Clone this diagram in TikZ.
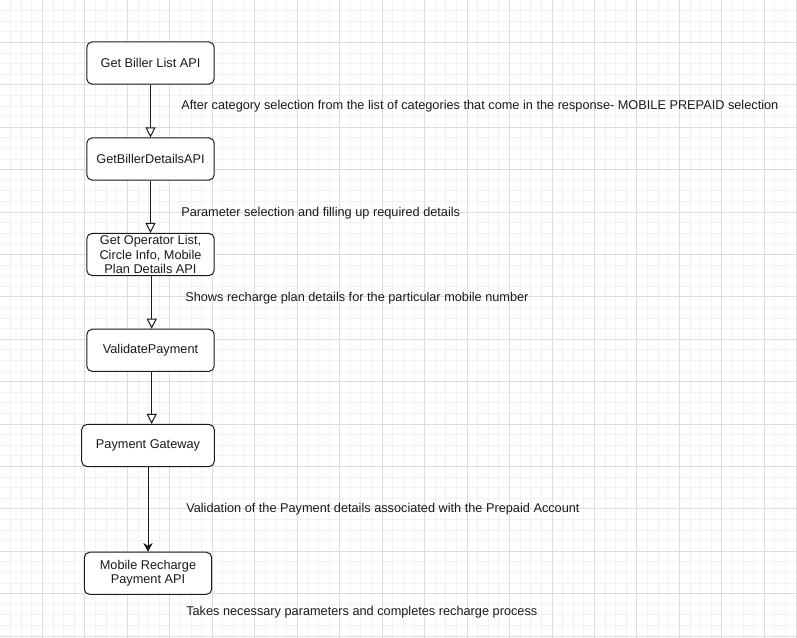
\documentclass[tikz,border=0pt]{standalone}
\usepackage{fontspec}
\setmainfont{Liberation Sans}
\usetikzlibrary{arrows.meta}
\definecolor{gridminor}{HTML}{F2F2F2}
\definecolor{gridmajor}{HTML}{DCDCDC}
\definecolor{inkc}{HTML}{1A1A1A}
\tikzset{
  box/.style={draw=inkc, line width=0.75pt, rounded corners=4pt, fill=white,
    minimum width=95.6pt, minimum height=31.6pt, inner sep=0pt, align=center,
    font=\fontsize{9.55}{11.1}\selectfont, text=inkc},
  lbl/.style={anchor=base west, inner sep=0pt, font=\fontsize{9.55}{11}\selectfont, text=inkc},
  openarrow/.style={draw=inkc, line width=0.75pt, -{Triangle[open, length=7.5pt, width=7.5pt]}},
  fullarrow/.style={draw=inkc, line width=0.75pt, -{Stealth[length=6.5pt, width=7pt, inset=2pt]}},
}
\begin{document}
\begin{tikzpicture}[x=0.75pt, y=-0.75pt]
\useasboundingbox (0,0) rectangle (797,638);
\fill[white] (0,0) rectangle (797,638);
% minor grid
\foreach \i in {1,...,75} {
  \draw[gridminor, line width=0.7pt] (\i*10.615,0) -- (\i*10.615,638);
}
\foreach \j in {1,...,60} {
  \draw[gridminor, line width=0.7pt] (0,\j*10.6) -- (797,\j*10.6);
}
% major grid
\foreach \i in {1,...,18} {
  \draw[gridmajor, line width=0.7pt] (\i*42.46,0) -- (\i*42.46,638);
}
\foreach \j in {1,...,15} {
  \draw[gridmajor, line width=0.7pt] (0,\j*42.4) -- (797,\j*42.4);
}
\draw[gridmajor, line width=1pt] (796.3,0) -- (796.3,638);

% nodes
\node[box] (n1) at (150.5,63) {Get Biller List API};
\node[box] (n2) at (150.5,159) {GetBillerDetailsAPI};
\node[box] (n3) at (150.5,254.5) {Get Operator List,\\Circle Info, Mobile\\Plan Details API};
\node[box] (n4) at (150.5,350.3) {ValidatePayment};
\node[box, minimum width=99.5pt] (n5) at (148,445.5) {Payment Gateway};
\node[box] (n6) at (148,573.3) {Mobile Recharge\\Payment API};

% connectors
\draw[openarrow] (n1.south) -- (n2.north);
\draw[openarrow] (n2.south) -- (n3.north);
\draw[openarrow] ([xshift=0.9pt]n3.south) -- ([xshift=0.9pt]n3.south |- n4.north);
\draw[openarrow] ([xshift=0.9pt]n4.south) -- ([xshift=0.9pt]n4.south |- n5.north);
\draw[fullarrow] (n5.south) -- (n6.north);

% labels
\node[lbl] (l1) at (181,109.5) {After category selection from the list of categories that come in the response- MOBILE PREPAID selection};
\node[lbl] (l2) at (181,216.5) {Parameter selection and filling up required details};
\node[lbl] (l3) at (185,301.5) {Shows recharge plan details for the particular mobile number};
\node[lbl] (l4) at (186,512) {Validation of the Payment details associated with the Prepaid Account};
\node[lbl] (l5) at (186,615) {Takes necessary parameters and completes recharge process};
\end{tikzpicture}
\end{document}
